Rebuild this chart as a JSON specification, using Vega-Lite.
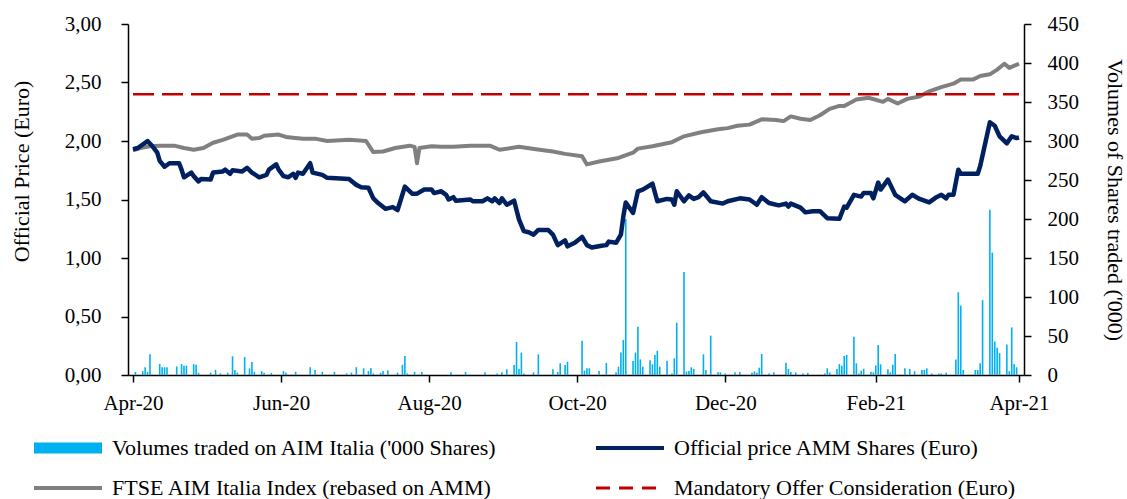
{
  "$schema": "https://vega.github.io/schema/vega-lite/v6.json",
  "width": 896,
  "height": 351,
  "autosize": {"type": "none"},
  "padding": {"left": 128, "top": 24, "right": 103, "bottom": 124},
  "background": "white",
  "config": {
    "view": {"stroke": null},
    "font": "'Liberation Serif', 'Times New Roman', serif",
    "axis": {"grid": false, "domainColor": "black", "tickColor": "black", "domainWidth": 1.5, "tickWidth": 1.5, "labelColor": "black", "titleColor": "black", "labelFont": "'Liberation Serif', 'Times New Roman', serif", "titleFont": "'Liberation Serif', 'Times New Roman', serif", "labelFontSize": 21, "titleFontSize": 22, "titleFontWeight": "normal"},
    "legend": {"title": null, "orient": "none", "labelFont": "'Liberation Serif', 'Times New Roman', serif", "labelFontSize": 22, "labelColor": "black", "labelLimit": 700, "symbolSize": 100, "labelOffset": 62, "padding": 0, "symbolOpacity": 1}
  },
  "datasets": {
    "vol": [
      {"date":"2020-04-02","vol":4,"s":"V"},{"date":"2020-04-05","vol":5,"s":"V"},{"date":"2020-04-06","vol":10,"s":"V"},{"date":"2020-04-07","vol":4,"s":"V"},{"date":"2020-04-08","vol":26.5,"s":"V"},
      {"date":"2020-04-12","vol":14,"s":"V"},{"date":"2020-04-13","vol":10,"s":"V"},{"date":"2020-04-14","vol":10,"s":"V"},{"date":"2020-04-15","vol":10,"s":"V"},{"date":"2020-04-19","vol":11,"s":"V"},
      {"date":"2020-04-21","vol":14,"s":"V"},{"date":"2020-04-22","vol":12,"s":"V"},{"date":"2020-04-23","vol":12,"s":"V"},{"date":"2020-04-26","vol":14,"s":"V"},{"date":"2020-04-27","vol":13,"s":"V"},
      {"date":"2020-04-28","vol":3,"s":"V"},{"date":"2020-05-03","vol":3,"s":"V"},{"date":"2020-05-05","vol":6.5,"s":"V"},{"date":"2020-05-07","vol":2,"s":"V"},{"date":"2020-05-10","vol":3,"s":"V"},
      {"date":"2020-05-12","vol":24,"s":"V"},{"date":"2020-05-13","vol":6.5,"s":"V"},{"date":"2020-05-14","vol":3,"s":"V"},{"date":"2020-05-17","vol":23,"s":"V"},{"date":"2020-05-19","vol":8.5,"s":"V"},
      {"date":"2020-05-20","vol":16.7,"s":"V"},{"date":"2020-05-21","vol":4,"s":"V"},{"date":"2020-05-24","vol":5,"s":"V"},{"date":"2020-05-25","vol":3,"s":"V"},{"date":"2020-05-28","vol":2.5,"s":"V"},
      {"date":"2020-06-02","vol":5,"s":"V"},{"date":"2020-06-03","vol":3,"s":"V"},{"date":"2020-06-07","vol":4,"s":"V"},{"date":"2020-06-13","vol":10,"s":"V"},{"date":"2020-06-15","vol":6.5,"s":"V"},
      {"date":"2020-06-18","vol":4,"s":"V"},{"date":"2020-06-23","vol":4,"s":"V"},{"date":"2020-06-28","vol":2,"s":"V"},{"date":"2020-06-30","vol":3,"s":"V"},{"date":"2020-07-02","vol":10,"s":"V"},
      {"date":"2020-07-05","vol":8.5,"s":"V"},{"date":"2020-07-07","vol":5,"s":"V"},{"date":"2020-07-08","vol":9,"s":"V"},{"date":"2020-07-09","vol":2,"s":"V"},{"date":"2020-07-12","vol":3,"s":"V"},
      {"date":"2020-07-13","vol":5,"s":"V"},{"date":"2020-07-15","vol":6,"s":"V"},{"date":"2020-07-19","vol":3,"s":"V"},{"date":"2020-07-21","vol":13,"s":"V"},{"date":"2020-07-22","vol":24.4,"s":"V"},
      {"date":"2020-07-23","vol":2,"s":"V"},{"date":"2020-07-26","vol":4,"s":"V"},{"date":"2020-07-29","vol":4,"s":"V"},{"date":"2020-08-10","vol":3.4,"s":"V"},{"date":"2020-08-16","vol":3.9,"s":"V"},
      {"date":"2020-08-24","vol":3.4,"s":"V"},{"date":"2020-08-29","vol":2,"s":"V"},{"date":"2020-08-31","vol":3.4,"s":"V"},{"date":"2020-09-02","vol":7.3,"s":"V"},{"date":"2020-09-05","vol":12.8,"s":"V"},
      {"date":"2020-09-06","vol":42.4,"s":"V"},{"date":"2020-09-07","vol":7.7,"s":"V"},{"date":"2020-09-08","vol":28.7,"s":"V"},{"date":"2020-09-09","vol":2,"s":"V"},{"date":"2020-09-13","vol":3.4,"s":"V"},
      {"date":"2020-09-15","vol":26.5,"s":"V"},{"date":"2020-09-21","vol":7.3,"s":"V"},{"date":"2020-09-23","vol":3.9,"s":"V"},{"date":"2020-09-24","vol":15,"s":"V"},{"date":"2020-09-26","vol":12.8,"s":"V"},
      {"date":"2020-09-27","vol":17,"s":"V"},{"date":"2020-10-03","vol":44,"s":"V"},{"date":"2020-10-04","vol":5.6,"s":"V"},{"date":"2020-10-05","vol":8.6,"s":"V"},{"date":"2020-10-06","vol":8.6,"s":"V"},
      {"date":"2020-10-10","vol":5,"s":"V"},{"date":"2020-10-13","vol":15.4,"s":"V"},{"date":"2020-10-17","vol":3.4,"s":"V"},{"date":"2020-10-18","vol":10.7,"s":"V"},{"date":"2020-10-19","vol":29,"s":"V"},
      {"date":"2020-10-20","vol":45,"s":"V"},{"date":"2020-10-21","vol":200,"s":"V"},{"date":"2020-10-24","vol":18,"s":"V"},{"date":"2020-10-25","vol":28.7,"s":"V"},{"date":"2020-10-26","vol":62,"s":"V"},
      {"date":"2020-10-27","vol":20,"s":"V"},{"date":"2020-10-28","vol":10.7,"s":"V"},{"date":"2020-10-31","vol":19,"s":"V"},{"date":"2020-11-01","vol":13.7,"s":"V"},{"date":"2020-11-02","vol":25.7,"s":"V"},
      {"date":"2020-11-03","vol":31,"s":"V"},{"date":"2020-11-04","vol":10.7,"s":"V"},{"date":"2020-11-07","vol":18.4,"s":"V"},{"date":"2020-11-09","vol":2,"s":"V"},{"date":"2020-11-10","vol":21.4,"s":"V"},
      {"date":"2020-11-11","vol":67,"s":"V"},{"date":"2020-11-14","vol":132,"s":"V"},{"date":"2020-11-15","vol":4.3,"s":"V"},{"date":"2020-11-16","vol":5,"s":"V"},{"date":"2020-11-17","vol":9.8,"s":"V"},
      {"date":"2020-11-18","vol":7.7,"s":"V"},{"date":"2020-11-22","vol":26.5,"s":"V"},{"date":"2020-11-23","vol":6.4,"s":"V"},{"date":"2020-11-25","vol":50.5,"s":"V"},{"date":"2020-11-28","vol":3.4,"s":"V"},
      {"date":"2020-11-29","vol":3.4,"s":"V"},{"date":"2020-12-01","vol":2,"s":"V"},{"date":"2020-12-05","vol":3.4,"s":"V"},{"date":"2020-12-07","vol":3.9,"s":"V"},{"date":"2020-12-12","vol":3,"s":"V"},
      {"date":"2020-12-13","vol":4.7,"s":"V"},{"date":"2020-12-14","vol":3,"s":"V"},{"date":"2020-12-15","vol":9.4,"s":"V"},{"date":"2020-12-16","vol":27,"s":"V"},{"date":"2020-12-19","vol":2,"s":"V"},
      {"date":"2020-12-21","vol":3.4,"s":"V"},{"date":"2020-12-26","vol":15.8,"s":"V"},{"date":"2020-12-27","vol":7.7,"s":"V"},{"date":"2020-12-28","vol":3.9,"s":"V"},{"date":"2020-12-30","vol":3.4,"s":"V"},
      {"date":"2021-01-02","vol":2,"s":"V"},{"date":"2021-01-04","vol":2.5,"s":"V"},{"date":"2021-01-11","vol":2,"s":"V"},{"date":"2021-01-12","vol":8.6,"s":"V"},{"date":"2021-01-13","vol":3.4,"s":"V"},
      {"date":"2021-01-16","vol":7.7,"s":"V"},{"date":"2021-01-17","vol":14,"s":"V"},{"date":"2021-01-18","vol":12,"s":"V"},{"date":"2021-01-19","vol":24.4,"s":"V"},{"date":"2021-01-20","vol":25.7,"s":"V"},
      {"date":"2021-01-23","vol":49,"s":"V"},{"date":"2021-01-24","vol":15,"s":"V"},{"date":"2021-01-25","vol":2,"s":"V"},{"date":"2021-01-26","vol":5.6,"s":"V"},{"date":"2021-01-27","vol":8,"s":"V"},
      {"date":"2021-01-30","vol":4.3,"s":"V"},{"date":"2021-01-31","vol":3.4,"s":"V"},{"date":"2021-02-01","vol":12.4,"s":"V"},{"date":"2021-02-02","vol":38.5,"s":"V"},{"date":"2021-02-03","vol":13.7,"s":"V"},
      {"date":"2021-02-06","vol":7.3,"s":"V"},{"date":"2021-02-07","vol":3.4,"s":"V"},{"date":"2021-02-08","vol":13.3,"s":"V"},{"date":"2021-02-09","vol":27,"s":"V"},{"date":"2021-02-13","vol":8.6,"s":"V"},
      {"date":"2021-02-15","vol":7.7,"s":"V"},{"date":"2021-02-17","vol":4.7,"s":"V"},{"date":"2021-02-20","vol":6.4,"s":"V"},{"date":"2021-02-21","vol":6.4,"s":"V"},{"date":"2021-02-22","vol":8.6,"s":"V"},
      {"date":"2021-02-24","vol":2,"s":"V"},{"date":"2021-02-27","vol":2,"s":"V"},{"date":"2021-02-28","vol":2,"s":"V"},{"date":"2021-03-02","vol":3,"s":"V"},{"date":"2021-03-06","vol":20,"s":"V"},
      {"date":"2021-03-07","vol":106,"s":"V"},{"date":"2021-03-08","vol":89,"s":"V"},{"date":"2021-03-09","vol":6.4,"s":"V"},{"date":"2021-03-14","vol":6.4,"s":"V"},{"date":"2021-03-15","vol":6.4,"s":"V"},
      {"date":"2021-03-16","vol":15,"s":"V"},{"date":"2021-03-17","vol":96,"s":"V"},{"date":"2021-03-20","vol":212,"s":"V"},{"date":"2021-03-21","vol":157,"s":"V"},{"date":"2021-03-22","vol":43,"s":"V"},
      {"date":"2021-03-23","vol":35,"s":"V"},{"date":"2021-03-24","vol":28,"s":"V"},{"date":"2021-03-27","vol":39,"s":"V"},{"date":"2021-03-28","vol":5,"s":"V"},{"date":"2021-03-29","vol":61,"s":"V"},
      {"date":"2021-03-30","vol":14,"s":"V"},{"date":"2021-03-31","vol":10,"s":"V"}
    ],
    "lines": [
      {"date":"2020-04-01","price":1.93,"s":"A"},{"date":"2020-04-03","price":1.94,"s":"A"},{"date":"2020-04-07","price":2.0,"s":"A"},{"date":"2020-04-09","price":1.955,"s":"A"},{"date":"2020-04-11","price":1.9,"s":"A"},
      {"date":"2020-04-12","price":1.83,"s":"A"},{"date":"2020-04-14","price":1.78,"s":"A"},{"date":"2020-04-16","price":1.81,"s":"A"},{"date":"2020-04-20","price":1.81,"s":"A"},{"date":"2020-04-21","price":1.755,"s":"A"},
      {"date":"2020-04-22","price":1.69,"s":"A"},{"date":"2020-04-25","price":1.73,"s":"A"},{"date":"2020-04-26","price":1.7,"s":"A"},{"date":"2020-04-28","price":1.655,"s":"A"},{"date":"2020-04-29","price":1.675,"s":"A"},
      {"date":"2020-05-03","price":1.67,"s":"A"},{"date":"2020-05-04","price":1.73,"s":"A"},{"date":"2020-05-08","price":1.74,"s":"A"},{"date":"2020-05-09","price":1.755,"s":"A"},{"date":"2020-05-11","price":1.72,"s":"A"},
      {"date":"2020-05-12","price":1.75,"s":"A"},{"date":"2020-05-16","price":1.74,"s":"A"},{"date":"2020-05-18","price":1.77,"s":"A"},{"date":"2020-05-20","price":1.73,"s":"A"},{"date":"2020-05-23","price":1.69,"s":"A"},
      {"date":"2020-05-26","price":1.71,"s":"A"},{"date":"2020-05-27","price":1.755,"s":"A"},{"date":"2020-05-30","price":1.8,"s":"A"},{"date":"2020-05-31","price":1.755,"s":"A"},{"date":"2020-06-02","price":1.7,"s":"A"},
      {"date":"2020-06-04","price":1.69,"s":"A"},{"date":"2020-06-06","price":1.72,"s":"A"},{"date":"2020-06-07","price":1.685,"s":"A"},{"date":"2020-06-08","price":1.73,"s":"A"},{"date":"2020-06-10","price":1.72,"s":"A"},
      {"date":"2020-06-13","price":1.81,"s":"A"},{"date":"2020-06-14","price":1.73,"s":"A"},{"date":"2020-06-18","price":1.71,"s":"A"},{"date":"2020-06-20","price":1.685,"s":"A"},{"date":"2020-06-29","price":1.675,"s":"A"},
      {"date":"2020-07-02","price":1.625,"s":"A"},{"date":"2020-07-04","price":1.605,"s":"A"},{"date":"2020-07-07","price":1.6,"s":"A"},{"date":"2020-07-09","price":1.51,"s":"A"},{"date":"2020-07-11","price":1.47,"s":"A"},
      {"date":"2020-07-14","price":1.42,"s":"A"},{"date":"2020-07-17","price":1.435,"s":"A"},{"date":"2020-07-19","price":1.41,"s":"A"},{"date":"2020-07-22","price":1.61,"s":"A"},{"date":"2020-07-25","price":1.55,"s":"A"},
      {"date":"2020-07-27","price":1.55,"s":"A"},{"date":"2020-07-30","price":1.585,"s":"A"},{"date":"2020-08-02","price":1.585,"s":"A"},{"date":"2020-08-03","price":1.555,"s":"A"},{"date":"2020-08-06","price":1.57,"s":"A"},
      {"date":"2020-08-08","price":1.54,"s":"A"},{"date":"2020-08-09","price":1.5,"s":"A"},{"date":"2020-08-11","price":1.52,"s":"A"},{"date":"2020-08-12","price":1.49,"s":"A"},{"date":"2020-08-18","price":1.5,"s":"A"},
      {"date":"2020-08-19","price":1.485,"s":"A"},{"date":"2020-08-23","price":1.485,"s":"A"},{"date":"2020-08-25","price":1.51,"s":"A"},{"date":"2020-08-27","price":1.485,"s":"A"},{"date":"2020-08-28","price":1.51,"s":"A"},
      {"date":"2020-08-30","price":1.47,"s":"A"},{"date":"2020-08-31","price":1.51,"s":"A"},{"date":"2020-09-02","price":1.455,"s":"A"},{"date":"2020-09-05","price":1.49,"s":"A"},{"date":"2020-09-06","price":1.41,"s":"A"},
      {"date":"2020-09-07","price":1.33,"s":"A"},{"date":"2020-09-09","price":1.23,"s":"A"},{"date":"2020-09-11","price":1.22,"s":"A"},{"date":"2020-09-13","price":1.2,"s":"A"},{"date":"2020-09-15","price":1.24,"s":"A"},
      {"date":"2020-09-19","price":1.24,"s":"A"},{"date":"2020-09-21","price":1.2,"s":"A"},{"date":"2020-09-23","price":1.11,"s":"A"},{"date":"2020-09-26","price":1.15,"s":"A"},{"date":"2020-09-27","price":1.1,"s":"A"},
      {"date":"2020-09-30","price":1.13,"s":"A"},{"date":"2020-10-03","price":1.18,"s":"A"},{"date":"2020-10-05","price":1.11,"s":"A"},{"date":"2020-10-07","price":1.09,"s":"A"},{"date":"2020-10-11","price":1.105,"s":"A"},
      {"date":"2020-10-13","price":1.11,"s":"A"},{"date":"2020-10-14","price":1.14,"s":"A"},{"date":"2020-10-17","price":1.13,"s":"A"},{"date":"2020-10-19","price":1.2,"s":"A"},{"date":"2020-10-20","price":1.355,"s":"A"},
      {"date":"2020-10-21","price":1.475,"s":"A"},{"date":"2020-10-24","price":1.385,"s":"A"},{"date":"2020-10-26","price":1.57,"s":"A"},{"date":"2020-10-28","price":1.585,"s":"A"},{"date":"2020-11-01","price":1.635,"s":"A"},
      {"date":"2020-11-03","price":1.485,"s":"A"},{"date":"2020-11-07","price":1.505,"s":"A"},{"date":"2020-11-09","price":1.5,"s":"A"},{"date":"2020-11-10","price":1.455,"s":"A"},{"date":"2020-11-11","price":1.57,"s":"A"},
      {"date":"2020-11-14","price":1.485,"s":"A"},{"date":"2020-11-16","price":1.535,"s":"A"},{"date":"2020-11-18","price":1.505,"s":"A"},{"date":"2020-11-20","price":1.52,"s":"A"},{"date":"2020-11-22","price":1.56,"s":"A"},
      {"date":"2020-11-25","price":1.485,"s":"A"},{"date":"2020-11-30","price":1.465,"s":"A"},{"date":"2020-12-02","price":1.485,"s":"A"},{"date":"2020-12-07","price":1.51,"s":"A"},{"date":"2020-12-11","price":1.5,"s":"A"},
      {"date":"2020-12-14","price":1.455,"s":"A"},{"date":"2020-12-16","price":1.52,"s":"A"},{"date":"2020-12-19","price":1.47,"s":"A"},{"date":"2020-12-23","price":1.45,"s":"A"},{"date":"2020-12-26","price":1.465,"s":"A"},
      {"date":"2020-12-27","price":1.44,"s":"A"},{"date":"2020-12-28","price":1.465,"s":"A"},{"date":"2021-01-01","price":1.43,"s":"A"},{"date":"2021-01-03","price":1.39,"s":"A"},{"date":"2021-01-06","price":1.4,"s":"A"},
      {"date":"2021-01-09","price":1.4,"s":"A"},{"date":"2021-01-12","price":1.34,"s":"A"},{"date":"2021-01-17","price":1.335,"s":"A"},{"date":"2021-01-19","price":1.44,"s":"A"},{"date":"2021-01-20","price":1.43,"s":"A"},
      {"date":"2021-01-23","price":1.54,"s":"A"},{"date":"2021-01-26","price":1.525,"s":"A"},{"date":"2021-01-27","price":1.555,"s":"A"},{"date":"2021-01-30","price":1.555,"s":"A"},{"date":"2021-01-31","price":1.51,"s":"A"},
      {"date":"2021-02-02","price":1.645,"s":"A"},{"date":"2021-02-03","price":1.585,"s":"A"},{"date":"2021-02-06","price":1.67,"s":"A"},{"date":"2021-02-09","price":1.54,"s":"A"},{"date":"2021-02-13","price":1.485,"s":"A"},
      {"date":"2021-02-16","price":1.54,"s":"A"},{"date":"2021-02-19","price":1.505,"s":"A"},{"date":"2021-02-23","price":1.475,"s":"A"},{"date":"2021-02-26","price":1.52,"s":"A"},{"date":"2021-02-28","price":1.54,"s":"A"},
      {"date":"2021-03-02","price":1.51,"s":"A"},{"date":"2021-03-03","price":1.54,"s":"A"},{"date":"2021-03-05","price":1.54,"s":"A"},{"date":"2021-03-07","price":1.755,"s":"A"},{"date":"2021-03-08","price":1.72,"s":"A"},
      {"date":"2021-03-15","price":1.72,"s":"A"},{"date":"2021-03-16","price":1.785,"s":"A"},{"date":"2021-03-20","price":2.16,"s":"A"},{"date":"2021-03-22","price":2.13,"s":"A"},{"date":"2021-03-24","price":2.04,"s":"A"},
      {"date":"2021-03-27","price":1.98,"s":"A"},{"date":"2021-03-29","price":2.04,"s":"A"},{"date":"2021-03-31","price":2.025,"s":"A"},{"date":"2021-04-01","price":2.03,"s":"A"},
      {"date":"2020-04-01","price":1.92,"s":"F"},{"date":"2020-04-04","price":1.94,"s":"F"},{"date":"2020-04-08","price":1.955,"s":"F"},{"date":"2020-04-12","price":1.96,"s":"F"},{"date":"2020-04-18","price":1.96,"s":"F"},
      {"date":"2020-04-22","price":1.94,"s":"F"},{"date":"2020-04-26","price":1.925,"s":"F"},{"date":"2020-04-30","price":1.94,"s":"F"},{"date":"2020-05-04","price":1.985,"s":"F"},{"date":"2020-05-08","price":2.01,"s":"F"},
      {"date":"2020-05-14","price":2.055,"s":"F"},{"date":"2020-05-18","price":2.055,"s":"F"},{"date":"2020-05-20","price":2.02,"s":"F"},{"date":"2020-05-23","price":2.025,"s":"F"},{"date":"2020-05-25","price":2.045,"s":"F"},
      {"date":"2020-05-31","price":2.055,"s":"F"},{"date":"2020-06-03","price":2.035,"s":"F"},{"date":"2020-06-10","price":2.02,"s":"F"},{"date":"2020-06-15","price":2.02,"s":"F"},{"date":"2020-06-20","price":2.0,"s":"F"},
      {"date":"2020-06-29","price":2.01,"s":"F"},{"date":"2020-07-06","price":2.0,"s":"F"},{"date":"2020-07-09","price":1.905,"s":"F"},{"date":"2020-07-13","price":1.91,"s":"F"},{"date":"2020-07-18","price":1.94,"s":"F"},
      {"date":"2020-07-24","price":1.96,"s":"F"},{"date":"2020-07-26","price":1.95,"s":"F"},{"date":"2020-07-27","price":1.81,"s":"F"},{"date":"2020-07-28","price":1.94,"s":"F"},{"date":"2020-08-02","price":1.955,"s":"F"},
      {"date":"2020-08-06","price":1.95,"s":"F"},{"date":"2020-08-11","price":1.95,"s":"F"},{"date":"2020-08-18","price":1.96,"s":"F"},{"date":"2020-08-26","price":1.96,"s":"F"},{"date":"2020-08-30","price":1.925,"s":"F"},
      {"date":"2020-09-07","price":1.95,"s":"F"},{"date":"2020-09-14","price":1.93,"s":"F"},{"date":"2020-09-21","price":1.91,"s":"F"},{"date":"2020-09-26","price":1.89,"s":"F"},{"date":"2020-10-03","price":1.87,"s":"F"},
      {"date":"2020-10-05","price":1.8,"s":"F"},{"date":"2020-10-10","price":1.825,"s":"F"},{"date":"2020-10-18","price":1.855,"s":"F"},{"date":"2020-10-24","price":1.9,"s":"F"},{"date":"2020-10-26","price":1.935,"s":"F"},
      {"date":"2020-11-01","price":1.955,"s":"F"},{"date":"2020-11-09","price":1.99,"s":"F"},{"date":"2020-11-14","price":2.04,"s":"F"},{"date":"2020-11-21","price":2.075,"s":"F"},{"date":"2020-11-28","price":2.1,"s":"F"},
      {"date":"2020-12-02","price":2.11,"s":"F"},{"date":"2020-12-06","price":2.13,"s":"F"},{"date":"2020-12-11","price":2.14,"s":"F"},{"date":"2020-12-16","price":2.185,"s":"F"},{"date":"2020-12-22","price":2.18,"s":"F"},
      {"date":"2020-12-25","price":2.17,"s":"F"},{"date":"2020-12-28","price":2.21,"s":"F"},{"date":"2021-01-01","price":2.19,"s":"F"},{"date":"2021-01-05","price":2.18,"s":"F"},{"date":"2021-01-09","price":2.22,"s":"F"},
      {"date":"2021-01-13","price":2.275,"s":"F"},{"date":"2021-01-17","price":2.3,"s":"F"},{"date":"2021-01-19","price":2.3,"s":"F"},{"date":"2021-01-24","price":2.355,"s":"F"},{"date":"2021-01-29","price":2.37,"s":"F"},
      {"date":"2021-02-04","price":2.335,"s":"F"},{"date":"2021-02-06","price":2.36,"s":"F"},{"date":"2021-02-10","price":2.32,"s":"F"},{"date":"2021-02-14","price":2.36,"s":"F"},{"date":"2021-02-19","price":2.38,"s":"F"},
      {"date":"2021-02-23","price":2.425,"s":"F"},{"date":"2021-02-28","price":2.46,"s":"F"},{"date":"2021-03-05","price":2.49,"s":"F"},{"date":"2021-03-08","price":2.525,"s":"F"},{"date":"2021-03-13","price":2.525,"s":"F"},
      {"date":"2021-03-16","price":2.555,"s":"F"},{"date":"2021-03-20","price":2.57,"s":"F"},{"date":"2021-03-23","price":2.61,"s":"F"},{"date":"2021-03-26","price":2.66,"s":"F"},{"date":"2021-03-28","price":2.625,"s":"F"},
      {"date":"2021-04-01","price":2.66,"s":"F"},
      {"date":"2020-04-01","price":2.4,"s":"M"},{"date":"2021-04-01","price":2.4,"s":"M"}
    ]
  },
  "encoding": {
    "x": {
      "field": "date", "type": "temporal", "title": null,
      "scale": {"type": "utc", "domain": ["2020-04-01", "2021-04-01"]},
      "axis": {
        "values": ["2020-04-01", "2020-06-01", "2020-08-01", "2020-10-01", "2020-12-01", "2021-02-01", "2021-04-01"],
        "labelExpr": "utcFormat(datum.value, '%b-%y')",
        "tickSize": 7, "labelPadding": 10, "labelFlush": false, "labelOverlap": false
      }
    }
  },
  "layer": [
    {
      "data": {"name": "vol"},
      "mark": {"type": "bar", "width": 1.6},
      "encoding": {
        "y": {
          "field": "vol", "type": "quantitative",
          "scale": {"domain": [0, 450], "nice": false},
          "axis": {"orient": "right", "values": [0,50,100,150,200,250,300,350,400,450], "title": "Volumes of Shares traded ('000)", "titleFontSize": 22, "tickSize": 7, "labelPadding": 16, "titleX": 90, "titleAngle": 90, "titleBaseline": "middle"}
        },
        "color": {
          "field": "s",
          "type": "nominal",
          "scale": {
            "domain": ["V", "A", "F", "M"],
            "range": ["#00B0F0", "#002060", "#808080", "#C00000"]
          },
          "legend": {
            "values": ["V"],
            "legendX": -100,
            "legendY": 413,
            "symbolType": "M-1,-1.1H12.6V1.1H-1Z",
            "symbolFillColor": "#00B0F0",
            "symbolStrokeWidth": 0,
            "labelExpr": "\"Volumes traded on AIM Italia ('000 Shares)\""
          }
        }
      }
    },
    {
      "data": {"name": "lines"},
      "layer": [
        {
          "transform": [{"filter": "datum.s === 'F'"}],
          "mark": {"type": "line", "strokeWidth": 4, "strokeJoin": "round"},
          "encoding": {
            "y": {
              "field": "price", "type": "quantitative",
              "scale": {"domain": [0, 3], "nice": false},
              "axis": {"orient": "left", "values": [0,0.5,1,1.5,2,2.5,3], "labelExpr": "replace(format(datum.value, '.2f'), '.', ',')", "title": "Official Price (Euro)", "tickSize": 7, "labelPadding": 20, "titleX": -107, "titleY": 147, "titleAngle": -90, "titleBaseline": "middle"}
            },
            "color": {
              "field": "s", "type": "nominal",
              "legend": {"values": ["F"], "legendX": -100, "legendY": 453, "symbolType": "M-1,0H12.6", "symbolStrokeWidth": 4, "labelExpr": "'FTSE AIM Italia Index (rebased on AMM)'"}
            }
          }
        },
        {
          "transform": [{"filter": "datum.s === 'A'"}],
          "mark": {"type": "line", "strokeWidth": 4.5, "strokeJoin": "round"},
          "encoding": {
            "y": {"field": "price", "type": "quantitative"},
            "color": {
              "field": "s", "type": "nominal",
              "legend": {"values": ["A"], "legendX": 462, "legendY": 413, "symbolType": "M-1,0H12.6", "symbolStrokeWidth": 4, "labelExpr": "'Official price AMM Shares (Euro)'"}
            }
          }
        },
        {
          "transform": [{"filter": "datum.s === 'M'"}],
          "mark": {"type": "line", "strokeWidth": 2.5, "strokeDash": [21, 8]},
          "encoding": {
            "y": {"field": "price", "type": "quantitative"},
            "color": {
              "field": "s", "type": "nominal",
              "legend": {"values": ["M"], "legendX": 462, "legendY": 453, "symbolType": "M-1,0H12.6", "symbolStrokeWidth": 3, "symbolDash": [14, 9], "labelExpr": "'Mandatory Offer Consideration (Euro)'"}
            }
          }
        }
      ],
      "resolve": {"legend": {"color": "independent"}}
    }
  ],
  "resolve": {"scale": {"y": "independent"}, "legend": {"color": "independent"}}
}
